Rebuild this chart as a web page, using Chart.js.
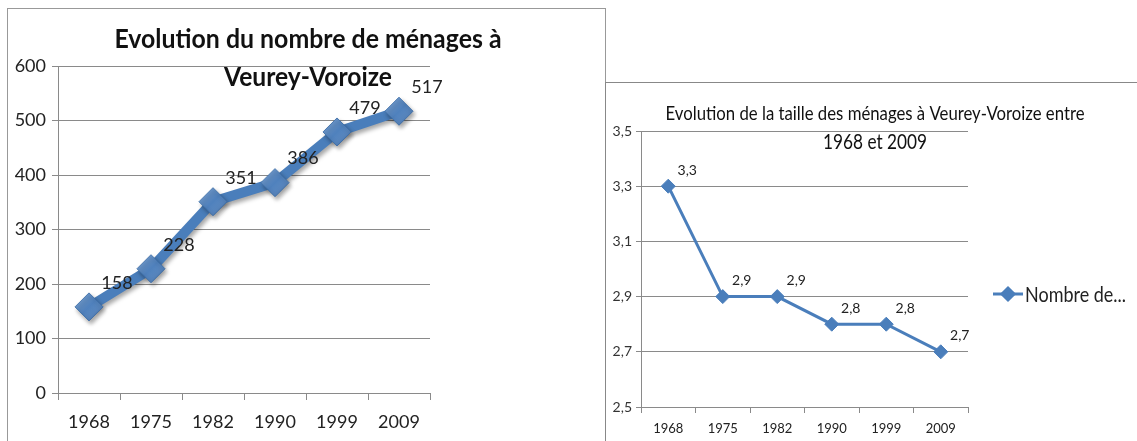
<!DOCTYPE html>
<html><head><meta charset="utf-8">
<script src="https://cdn.jsdelivr.net/npm/chart.js@4.4.1/dist/chart.umd.min.js"></script>
<style>
html,body{margin:0;padding:0;background:#fff;width:1137px;height:441px;overflow:hidden;position:relative}
#left{position:absolute;left:7px;top:8px;width:597px;height:432px;border-top:1px solid #999;border-left:1px solid #999;border-right:1px solid #999}
#right{position:absolute;left:605px;top:82px;width:531px;height:358px;border-top:1px solid #888;border-left:1px solid #888}
canvas{display:block}
</style></head><body>
<div id="left"><canvas id="c1" width="597" height="432"></canvas></div>
<div id="right"><canvas id="c2" width="531" height="358"></canvas></div>
<script>
const categories = ['1968','1975','1982','1990','1999','2009'];
const menages = [158, 228, 351, 386, 479, 517];
const tailleMenages = [3.3, 2.9, 2.9, 2.8, 2.8, 2.7];
const leftTitle = ['Evolution du nombre de ménages à', 'Veurey-Voroize'];
const rightTitle = ['Evolution de la taille des ménages à Veurey-Voroize entre', '1968 et 2009'];
const seriesName = 'Nombre de...';

const valueLabels = {
  id: 'valueLabels',
  afterDatasetsDraw(chart, args, o) {
    const ctx = chart.ctx; ctx.save();
    ctx.font = o.font; ctx.fillStyle = o.color; ctx.textAlign = 'center'; ctx.textBaseline = 'middle';
    const meta = chart.getDatasetMeta(0);
    meta.data.forEach((pt, i) => {
      ctx.fillText(o.format(chart.data.datasets[0].data[i]), pt.x + o.dx, pt.y + o.dy);
    });
    ctx.restore();
  }
};
const overlayTitle = {
  id: 'overlayTitle',
  afterDraw(chart, args, o) {
    const ctx = chart.ctx; ctx.save();
    ctx.fillStyle = o.color; ctx.textAlign = 'center'; ctx.textBaseline = 'middle';
    o.lines.forEach((t, i) => { ctx.font = o.fonts[i]; ctx.fillText(t, o.x[i], o.y[i], o.maxW[i]); });
    ctx.restore();
  }
};
const lineShadow = {
  id: 'lineShadow',
  beforeDatasetDraw(chart, args, o) {
    if (!o.enabled) return;
    const ctx = chart.ctx; ctx.save();
    ctx.shadowColor = 'rgba(0,0,0,0.35)'; ctx.shadowBlur = 4; ctx.shadowOffsetX = 2; ctx.shadowOffsetY = 3;
  },
  afterDatasetDraw(chart, args, o) {
    if (!o.enabled) return;
    const ctx = chart.ctx; ctx.restore();
    // bevel shading on the diamond markers
    const meta = chart.getDatasetMeta(0);
    meta.data.forEach(pt => {
      const r = pt.options.radius;
      ctx.save();
      ctx.beginPath();
      ctx.moveTo(pt.x, pt.y - r); ctx.lineTo(pt.x + r, pt.y); ctx.lineTo(pt.x, pt.y + r); ctx.lineTo(pt.x - r, pt.y); ctx.closePath();
      ctx.clip();
      const g = ctx.createLinearGradient(pt.x - r, pt.y - r, pt.x + r, pt.y + r);
      g.addColorStop(0, 'rgba(255,255,255,0.28)');
      g.addColorStop(0.5, 'rgba(255,255,255,0.0)');
      g.addColorStop(1, 'rgba(0,0,40,0.22)');
      ctx.fillStyle = g; ctx.fillRect(pt.x - r, pt.y - r, 2 * r, 2 * r);
      ctx.restore();
    });
  }
};
const sideLegend = {
  id: 'sideLegend',
  afterDraw(chart, args, o) {
    if (!o.enabled) return;
    const ctx = chart.ctx; const ds = chart.data.datasets[0];
    ctx.save();
    ctx.strokeStyle = ds.borderColor; ctx.lineWidth = ds.borderWidth;
    ctx.beginPath(); ctx.moveTo(o.x, o.y); ctx.lineTo(o.x + o.w, o.y); ctx.stroke();
    ctx.fillStyle = ds.pointBackgroundColor; ctx.strokeStyle = ds.pointBorderColor;
    Chart.helpers.drawPoint(ctx, {pointStyle: 'rectRot', radius: 6, borderWidth: 1}, o.x + o.w / 2, o.y);
    ctx.fillStyle = '#222'; ctx.font = o.font; ctx.textAlign = 'left'; ctx.textBaseline = 'middle';
    ctx.fillText(ds.label, o.x + o.w + 2, o.y + 1, o.maxW);
    ctx.restore();
  }
};
Chart.register(valueLabels, overlayTitle, lineShadow, sideLegend);

new Chart(document.getElementById('c1'), {
  type: 'line',
  data: { labels: categories, datasets: [{
    label: 'Ménages', data: menages,
    borderColor: '#4A7EBB', borderWidth: 10, tension: 0,
    pointStyle: 'rectRot', pointRadius: 14, pointBackgroundColor: '#4F81BD',
    pointBorderColor: '#3B6DA8', pointBorderWidth: 1
  }]},
  options: {
    responsive: false, animation: false,
    layout: { padding: { left: 0, right: 175, top: 57, bottom: 0 } },
    scales: {
      x: { offset: true,
        grid: { offset: true, drawOnChartArea: false, tickLength: 7, color: '#8a8a8a' },
        border: { color: '#8a8a8a' },
        ticks: { padding: 11, color: '#222', font: { family: 'Lato', size: 18 } },
        afterFit(s) { s.height = 48; } },
      y: { min: 0, max: 600,
        grid: { tickLength: 6, color: '#8a8a8a' },
        border: { color: '#8a8a8a' },
        ticks: { stepSize: 100, padding: 6, color: '#222', font: { family: 'Lato', size: 18 } },
        afterFit(s) { s.width = 50; } }
    },
    plugins: {
      legend: { display: false }, tooltip: { enabled: false },
      lineShadow: { enabled: true },
      sideLegend: { enabled: false },
      valueLabels: { font: '18px Lato', color: '#222', dx: 28, dy: -24, format: v => String(v) },
      overlayTitle: { lines: leftTitle, color: '#111',
        fonts: ['bold 26px Lato', 'bold 26px Lato'], x: [300, 300], y: [31, 69], maxW: [387, 168] }
    }
  }
});

new Chart(document.getElementById('c2'), {
  type: 'line',
  data: { labels: categories, datasets: [{
    label: seriesName, data: tailleMenages,
    borderColor: '#4A7EBB', borderWidth: 3, tension: 0,
    pointStyle: 'rectRot', pointRadius: 7, pointBackgroundColor: '#4A7EBB',
    pointBorderColor: '#4A7EBB', pointBorderWidth: 1
  }]},
  options: {
    responsive: false, animation: false,
    layout: { padding: { left: 0, right: 169, top: 48, bottom: 0 } },
    scales: {
      x: { offset: true,
        grid: { offset: true, drawOnChartArea: false, tickLength: 6, color: '#8a8a8a' },
        border: { color: '#8a8a8a' },
        ticks: { padding: 8, color: '#222', font: { family: 'Lato', size: 13 } },
        afterFit(s) { s.height = 34; } },
      y: { min: 2.5, max: 3.5,
        grid: { tickLength: 5, color: '#8a8a8a' },
        border: { color: '#8a8a8a' },
        ticks: { stepSize: 0.2, padding: 4, color: '#333', font: { family: 'Lato', size: 14 },
          callback: v => Number(v).toFixed(1).replace('.', ',') },
        afterFit(s) { s.width = 35; } }
    },
    plugins: {
      legend: { display: false }, tooltip: { enabled: false },
      lineShadow: { enabled: false },
      sideLegend: { enabled: true, x: 387, y: 211, w: 30, font: '22px Lato', maxW: 101 },
      valueLabels: { font: '14px Lato', color: '#222', dx: 19, dy: -16,
        format: v => v.toFixed(1).replace('.', ',') },
      overlayTitle: { lines: rightTitle, color: '#111',
        fonts: ['19px Lato', '22px Lato'], x: [269, 269], y: [31, 59], maxW: [419, 104] }
    }
  }
});
</script>
</body></html>
